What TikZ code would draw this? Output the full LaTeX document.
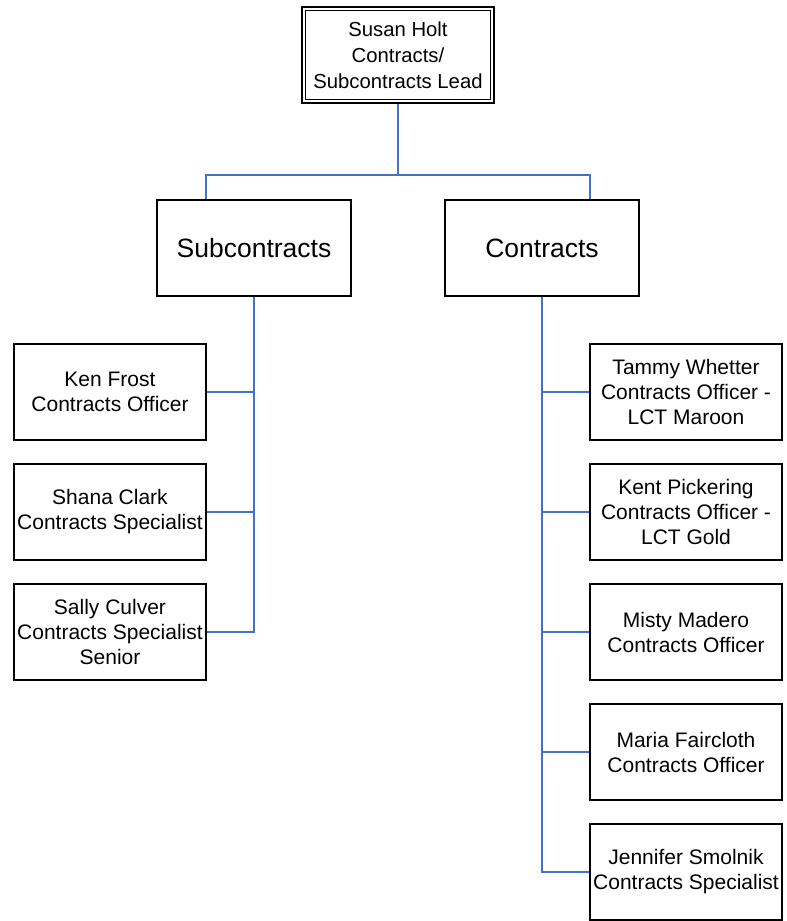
\documentclass[tikz,border=0pt]{standalone}
\usepackage{fontspec}
\setmainfont{Liberation Sans}
\definecolor{linkblue}{HTML}{4472C4}
\begin{document}
\begin{tikzpicture}[x=1pt,y=-1pt,
  box/.style={draw=black,line width=1.4pt,fill=white,minimum width=192pt,minimum height=96pt,inner sep=0pt,align=center,font=\fontsize{21}{25}\selectfont},
  bigbox/.style={box,minimum width=194pt,minimum height=96pt,font=\fontsize{26.5}{30}\selectfont},
  topbox/.style={box,line width=1.8pt,minimum width=192pt,minimum height=96pt,font=\fontsize{20.3}{26}\selectfont},
  link/.style={draw=linkblue,line width=1.6pt}]
\useasboundingbox (0,0) rectangle (787,921);
\coordinate (bus) at (398,175);
\node[topbox] (top) at (398,55) {Susan Holt\\Contracts/\\Subcontracts Lead};
\draw[black,line width=1pt] ([shift={(4.5,4.5)}]top.north west) rectangle ([shift={(-4.5,-4.5)}]top.south east);
\node[bigbox] (sub) at (254,248) {Subcontracts};
\node[bigbox] (con) at (542,248) {Contracts};
\node[box] (ken) at (110,392) {Ken Frost\\Contracts Officer};
\node[box] (shana) at (110,512) {Shana Clark\\Contracts Specialist};
\node[box] (sally) at (110,632) {Sally Culver\\Contracts Specialist\\Senior};
\node[box] (tammy) at (686,392) {Tammy Whetter\\Contracts Officer -\\LCT Maroon};
\node[box] (kent) at (686,512) {Kent Pickering\\Contracts Officer -\\LCT Gold};
\node[box] (misty) at (686,632) {Misty Madero\\Contracts Officer};
\node[box] (maria) at (686,752) {Maria Faircloth\\Contracts Officer};
\node[box] (jen) at (686,872) {Jennifer Smolnik\\Contracts Specialist};
\draw[link] (top.south) -- (bus);
\draw[link] ([xshift=-48pt]sub.north) |- (bus) -| ([xshift=48pt]con.north);
\draw[link] (sub.south) |- (sally.east);
\draw[link] (ken.east) -- (ken.east -| sub.south);
\draw[link] (shana.east) -- (shana.east -| sub.south);
\draw[link] (con.south) |- (jen.west);
\draw[link] (tammy.west) -- (tammy.west -| con.south);
\draw[link] (kent.west) -- (kent.west -| con.south);
\draw[link] (misty.west) -- (misty.west -| con.south);
\draw[link] (maria.west) -- (maria.west -| con.south);
\end{tikzpicture}
\end{document}
